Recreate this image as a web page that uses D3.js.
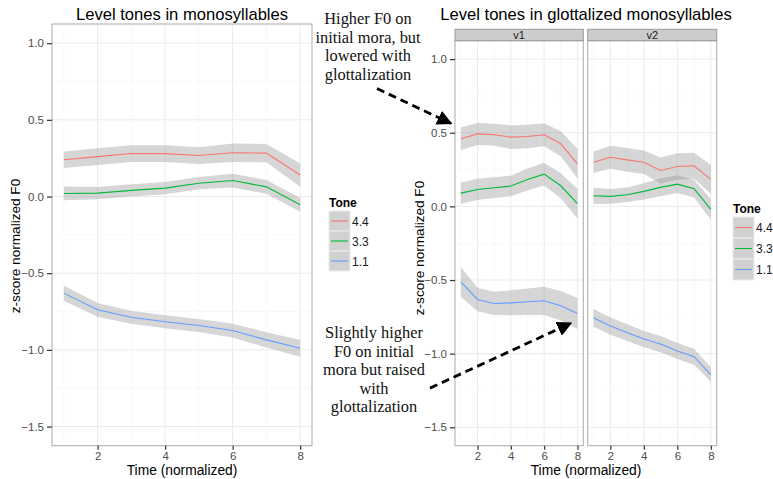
<!DOCTYPE html>
<html>
<head>
<meta charset="utf-8">
<script src="https://cdn.jsdelivr.net/npm/d3@7"></script>
<style>
  body { margin: 0; background: #fff; }
  svg { display: block; font-family: "Liberation Sans", Arial, sans-serif; }
</style>
</head>
<body>
<div id="chart-area"></div>
<script>
// DATA
var time = [1, 2, 3, 4, 5, 6, 7, 8];
var tones = ["4.4", "3.3", "1.1"];
var toneColors = ["#F8766D", "#00BA38", "#619CFF"];
var xTicks = [2, 4, 6, 8];
var yTicks = [-1.5, -1.0, -0.5, 0.0, 0.5, 1.0];
var facets = ["v1", "v2"];

// monosyllables: fitted mean and half width of the grey band
var mono44 = [0.24, 0.26, 0.28, 0.28, 0.267, 0.285, 0.283, 0.14];
var mono44Band = [0.054, 0.055, 0.055, 0.055, 0.055, 0.06, 0.06, 0.076];
var mono33 = [0.02, 0.022, 0.04, 0.055, 0.087, 0.104, 0.063, -0.054];
var mono33Band = [0.045, 0.04, 0.04, 0.04, 0.04, 0.045, 0.045, 0.045];
var mono11 = [-0.63, -0.739, -0.787, -0.817, -0.841, -0.874, -0.935, -0.99];
var mono11Band = [0.05, 0.045, 0.042, 0.042, 0.042, 0.045, 0.05, 0.055];

// glottalized monosyllables, facet v1
var v1_44 = [0.459, 0.492, 0.486, 0.47, 0.474, 0.486, 0.425, 0.289];
var v1_44Band = [0.077, 0.075, 0.075, 0.08, 0.08, 0.078, 0.085, 0.10];
var v1_33 = [0.09, 0.115, 0.127, 0.138, 0.183, 0.219, 0.14, 0.018];
var v1_33Band = [0.072, 0.072, 0.07, 0.07, 0.075, 0.077, 0.085, 0.10];
var v1_11 = [-0.513, -0.632, -0.659, -0.655, -0.648, -0.641, -0.675, -0.727];
var v1_11Band = [0.10, 0.08, 0.079, 0.085, 0.09, 0.096, 0.10, 0.105];

// glottalized monosyllables, facet v2
var v2_44 = [0.30, 0.334, 0.316, 0.30, 0.244, 0.271, 0.276, 0.183];
var v2_44Band = [0.073, 0.077, 0.08, 0.08, 0.088, 0.09, 0.088, 0.098];
var v2_33 = [0.072, 0.068, 0.079, 0.102, 0.129, 0.151, 0.12, -0.02];
var v2_33Band = [0.055, 0.05, 0.05, 0.055, 0.06, 0.06, 0.06, 0.07];
var v2_11 = [-0.757, -0.813, -0.856, -0.901, -0.935, -0.982, -1.021, -1.143];
var v2_11Band = [0.061, 0.058, 0.056, 0.055, 0.055, 0.055, 0.055, 0.05];

var monoSeries = [[mono44, mono44Band], [mono33, mono33Band], [mono11, mono11Band]];
var v1Series = [[v1_44, v1_44Band], [v1_33, v1_33Band], [v1_11, v1_11Band]];
var v2Series = [[v2_44, v2_44Band], [v2_33, v2_33Band], [v2_11, v2_11Band]];

// annotation arrows, in the data units of facet v1
var arrows = [
    { x1: -4.03, y1: 0.80, x2: 0.41, y2: 0.563 },
    { x1: -0.85, y1: -1.234, x2: 7.61, y2: -0.793 }
];
var note1 = ["Higher F0 on", "initial mora, but", "lowered with", "glottalization"];
var note2 = ["Slightly higher", "F0 on initial", "mora but raised", "with", "glottalization"];

var width = 773, height = 479;
var svg = d3.select("#chart-area")
    .append("svg")
    .attr("width", width)
    .attr("height", height);

var xDomain = [0.65, 8.35];
var yDomain = [-1.625, 1.125];

function drawPanel(x, y, series, showX) {
    var g = svg.append("g");
    var x0 = x.range()[0], x1 = x.range()[1];
    var yb = y.range()[0], yt = y.range()[1];

    // minor grid
    [1, 3, 5, 7].forEach((t) => {
        g.append("line").attr("x1", x(t)).attr("x2", x(t)).attr("y1", yb).attr("y2", yt)
            .attr("stroke", "#f5f5f5").attr("stroke-width", 0.6);
    });
    [-1.25, -0.75, -0.25, 0.25, 0.75].forEach((t) => {
        g.append("line").attr("x1", x0).attr("x2", x1).attr("y1", y(t)).attr("y2", y(t))
            .attr("stroke", "#f5f5f5").attr("stroke-width", 0.6);
    });
    // major grid
    xTicks.forEach((t) => {
        g.append("line").attr("x1", x(t)).attr("x2", x(t)).attr("y1", yb).attr("y2", yt)
            .attr("stroke", "#ebebeb").attr("stroke-width", 1);
    });
    yTicks.forEach((t) => {
        g.append("line").attr("x1", x0).attr("x2", x1).attr("y1", y(t)).attr("y2", y(t))
            .attr("stroke", "#ebebeb").attr("stroke-width", 1);
    });

    // grey bands first, then the lines
    var area = d3.area()
        .x((d, i) => x(time[i]))
        .y0((d) => y(d[0] - d[1]))
        .y1((d) => y(d[0] + d[1]));
    var line = d3.line()
        .x((d, i) => x(time[i]))
        .y((d) => y(d));

    series.forEach((s) => {
        var pts = s[0].map((v, i) => [v, s[1][i]]);
        g.append("path").attr("d", area(pts))
            .attr("fill", "#999999").attr("fill-opacity", 0.4);
    });
    series.forEach((s, k) => {
        g.append("path").attr("d", line(s[0]))
            .attr("fill", "none").attr("stroke", toneColors[k]).attr("stroke-width", 1.1);
    });

    // border
    g.append("rect").attr("x", x0).attr("y", yt)
        .attr("width", x1 - x0).attr("height", yb - yt)
        .attr("fill", "none").attr("stroke", "#aaaaaa").attr("stroke-width", 1);

    // x axis
    if (showX) {
        var xa = g.append("g")
            .attr("transform", "translate(0, " + yb + ")")
            .call(d3.axisBottom(x).tickValues(xTicks).tickSize(4).tickPadding(2).tickFormat(d3.format("d")));
        xa.select(".domain").remove();
        xa.selectAll("line").attr("stroke", "#333").attr("stroke-width", 1.2);
        xa.selectAll("text").attr("font-size", "11.5px").attr("fill", "#4d4d4d")
            .attr("font-family", "Liberation Sans, Arial, sans-serif");
    }
    return g;
}

function drawYAxis(y, xPos) {
    var ya = svg.append("g")
        .attr("transform", "translate(" + xPos + ", 0)")
        .call(d3.axisLeft(y).tickValues(yTicks).tickSize(5).tickPadding(3).tickFormat(d3.format(".1f")));
    ya.select(".domain").remove();
    ya.selectAll("line").attr("stroke", "#333").attr("stroke-width", 1.2);
    ya.selectAll("text").attr("font-size", "11.5px").attr("fill", "#4d4d4d")
        .attr("font-family", "Liberation Sans, Arial, sans-serif");
}

function drawLegend(lx, ly, keyW, keyH) {
    var g = svg.append("g");
    g.append("text").attr("x", lx).attr("y", ly - 4)
        .attr("font-size", "12px").attr("font-weight", "bold").attr("fill", "#000")
        .text("Tone");
    tones.forEach((t, i) => {
        var top = ly + i * keyH;
        g.append("rect").attr("x", lx).attr("y", top)
            .attr("width", keyW).attr("height", keyH)
            .attr("fill", "#d1d1d1").attr("stroke", "#ebebeb").attr("stroke-width", 1);
        g.append("line").attr("x1", lx + 2).attr("x2", lx + keyW - 2)
            .attr("y1", top + keyH / 2).attr("y2", top + keyH / 2)
            .attr("stroke", toneColors[i]).attr("stroke-width", 1.1);
        g.append("text").attr("x", lx + keyW + 2).attr("y", top + keyH / 2 + 4.5)
            .attr("font-size", "12px").attr("fill", "#1a1a1a").text(t);
    });
}

// ---LEFT CHART
var xL = d3.scaleLinear().domain(xDomain).range([52, 312]);
var yL = d3.scaleLinear().domain(yDomain).range([445.7, 24]);
drawPanel(xL, yL, monoSeries, true);
drawYAxis(yL, 52);

svg.append("text").attr("x", 182).attr("y", 20).attr("text-anchor", "middle")
    .attr("font-size", "16.6px").attr("fill", "#000").text("Level tones in monosyllables");
svg.append("text").attr("x", 182).attr("y", 475).attr("text-anchor", "middle")
    .attr("font-size", "13.8px").attr("fill", "#000").text("Time (normalized)");
svg.append("text").attr("transform", "translate(20, 246) rotate(-90)")
    .attr("text-anchor", "middle").attr("font-size", "13.6px").attr("fill", "#000")
    .text("z-score normalized F0");
drawLegend(329, 211, 21, 20);

// ---RIGHT CHART (faceted)
var xV1 = d3.scaleLinear().domain(xDomain).range([455, 583.3]);
var xV2 = d3.scaleLinear().domain(xDomain).range([587.7, 716.7]);
var yR = d3.scaleLinear().domain(yDomain).range([445.7, 40.7]);
drawPanel(xV1, yR, v1Series, true);
drawPanel(xV2, yR, v2Series, true);
drawYAxis(yR, 455);

[xV1, xV2].forEach((xs, i) => {
    var r = xs.range();
    svg.append("rect").attr("x", r[0]).attr("y", 29.3)
        .attr("width", r[1] - r[0]).attr("height", 11.4)
        .attr("fill", "#cccccc").attr("stroke", "#999999").attr("stroke-width", 1);
    svg.append("text").attr("x", (r[0] + r[1]) / 2).attr("y", 39)
        .attr("text-anchor", "middle").attr("font-size", "11px").attr("fill", "#1a1a1a")
        .text(facets[i]);
});

svg.append("text").attr("x", 586).attr("y", 20).attr("text-anchor", "middle")
    .attr("font-size", "16.6px").attr("fill", "#000").text("Level tones in glottalized monosyllables");
svg.append("text").attr("x", 586).attr("y", 475).attr("text-anchor", "middle")
    .attr("font-size", "13.8px").attr("fill", "#000").text("Time (normalized)");
svg.append("text").attr("transform", "translate(424, 248) rotate(-90)")
    .attr("text-anchor", "middle").attr("font-size", "13.6px").attr("fill", "#000")
    .text("z-score normalized F0");
drawLegend(733, 217, 21, 21);

// ---ANNOTATIONS
svg.append("defs").append("marker")
    .attr("id", "head")
    .attr("viewBox", "0 0 10 10")
    .attr("refX", 9).attr("refY", 5)
    .attr("markerWidth", 5.4).attr("markerHeight", 5.4)
    .attr("orient", "auto")
    .attr("markerUnits", "strokeWidth")
    .append("path").attr("d", "M0,0 L10,5 L0,10 Z").attr("fill", "#000");

arrows.forEach((a) => {
    svg.append("line")
        .attr("x1", xV1(a.x1)).attr("y1", yR(a.y1))
        .attr("x2", xV1(a.x2)).attr("y2", yR(a.y2))
        .attr("stroke", "#000").attr("stroke-width", 2.8)
        .attr("stroke-dasharray", "8,5")
        .attr("marker-end", "url(#head)");
});

function drawNote(lines, cx, y0) {
    var t = svg.append("text").attr("text-anchor", "middle")
        .attr("font-family", "Liberation Serif, Times New Roman, serif")
        .attr("font-size", "16.4px").attr("fill", "#111");
    lines.forEach((l, i) => {
        t.append("tspan").attr("x", cx).attr("y", y0 + i * 18.6).text(l);
    });
}
drawNote(note1, 368, 24);
drawNote(note2, 374, 338);
</script>
</body>
</html>
